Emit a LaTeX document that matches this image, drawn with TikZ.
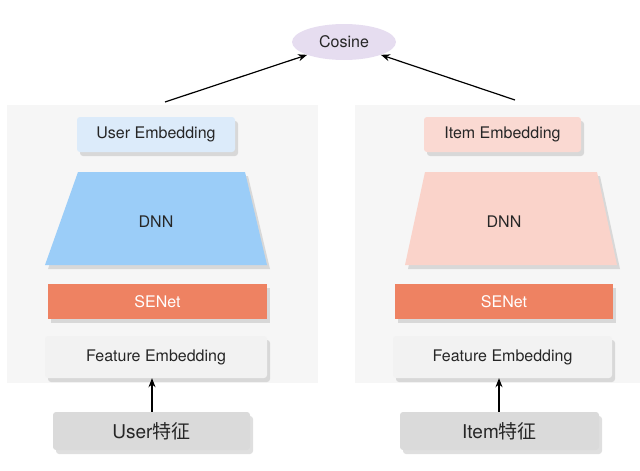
\documentclass[tikz,border=0pt]{standalone}
\usepackage{fontspec}
\setmainfont{TeX Gyre Heros}
\newfontfamily\cjk{Noto Sans CJK SC}
\usetikzlibrary{arrows.meta,shadows,shapes.geometric}
\definecolor{panelbg}{HTML}{F6F6F6}
\definecolor{ublue}{HTML}{DCEBFA}
\definecolor{dblue}{HTML}{9BCDF8}
\definecolor{ipink}{HTML}{FAD9D2}
\definecolor{dpink}{HTML}{FAD3CA}
\definecolor{senet}{HTML}{EE8262}
\definecolor{feat}{HTML}{F2F2F2}
\definecolor{grayb}{HTML}{DADADA}
\definecolor{cos}{HTML}{E6DDF0}
\begin{document}
\begin{tikzpicture}[x=1pt,y=-1pt,
  every node/.style={font=\fontsize{16}{18}\selectfont, text=black!85},
  box/.style={draw=none, rounded corners=3pt, drop shadow={opacity=0.25,shadow xshift=3pt,shadow yshift=-4pt}},
  arr/.style={-{Stealth[length=9pt,width=7pt]}, line width=1.2pt}]
\useasboundingbox (0,0) rectangle (640,471);
\fill[panelbg] (7,105) rectangle (318,383);
\fill[panelbg] (355,105) rectangle (640,383);
\node[ellipse, fill=cos, minimum width=104, minimum height=36, inner sep=0] (cos) at (344,42) {Cosine};
% left
\node[box, fill=ublue, minimum width=158, minimum height=35] (ue) at (156,134.5) {User Embedding};
\fill[dblue, drop shadow={opacity=0.25,shadow xshift=3pt,shadow yshift=-4pt}] (78,172) -- (245,172) -- (267,265) -- (45,265) -- cycle;
\node (dnnl) at (156,222) {DNN};
\node[box, rounded corners=0, fill=senet, minimum width=219, minimum height=35, text=white] (sl) at (157.5,301.5) {SENet};
\node[box, fill=feat, minimum width=222, minimum height=42] (fl) at (156,357) {Feature Embedding};
\node[box, fill=grayb, minimum width=197, minimum height=38, font=\fontsize{19}{21}\selectfont] (ul) at (151.5,431) {User{\cjk 特征}};
\draw[arr] (ul.north -| 152,0) -- (fl.south -| 152,0);
% right
\node[box, fill=ipink, minimum width=157, minimum height=35] (ie) at (502.5,134.5) {Item Embedding};
\fill[dpink, drop shadow={opacity=0.25,shadow xshift=3pt,shadow yshift=-4pt}] (425,172) -- (597,172) -- (617,265) -- (405,265) -- cycle;
\node (dnnr) at (504,222) {DNN};
\node[box, rounded corners=0, fill=senet, minimum width=218, minimum height=35, text=white] (sr) at (504,301.5) {SENet};
\node[box, fill=feat, minimum width=219, minimum height=42] (fr) at (502.5,357) {Feature Embedding};
\node[box, fill=grayb, minimum width=199, minimum height=38, font=\fontsize{19}{21}\selectfont] (ir) at (499.5,431) {Item{\cjk 特征}};
\draw[arr] (ir.north -| 499,0) -- (fr.south -| 499,0);
% top arrows
\coordinate (lt) at (165,102);
\coordinate (rt) at (515,100);
\draw[arr] (lt) -- (cos.south west);
\draw[arr] (rt) -- (cos.south east);
\end{tikzpicture}
\end{document}
